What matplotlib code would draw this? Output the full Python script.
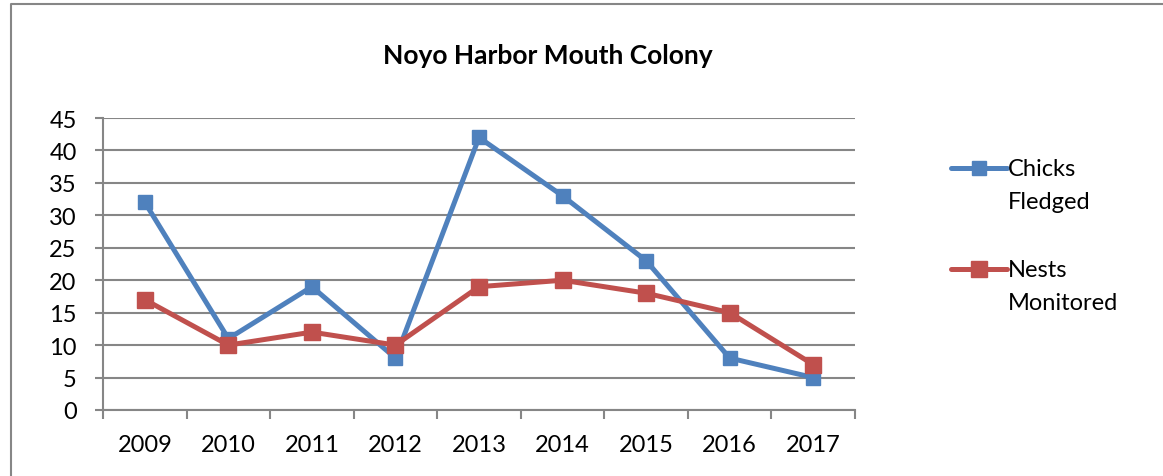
import matplotlib

matplotlib.use("Agg")
import matplotlib.pyplot as plt
from matplotlib.lines import Line2D

plt.rcParams["font.family"] = ["Lato", "DejaVu Sans"]

years = ["2009", "2010", "2011", "2012", "2013", "2014", "2015", "2016", "2017"]
chicks_fledged = [32, 11, 19, 8, 42, 33, 23, 8, 5]
nests_monitored = [17, 10, 12, 10, 19, 20, 18, 15, 7]

blue = "#4F81BD"
red = "#C0504D"
grey = "#868686"

fig = plt.figure(figsize=(11.63, 4.77), dpi=100)
ax = fig.add_axes([0.0886, 0.1384, 0.6466, 0.6121])

x = list(range(len(years)))
ax.plot(x, chicks_fledged, color=blue, lw=3.6, marker="s", ms=9.5,
        solid_joinstyle="miter", zorder=3)
ax.plot(x, nests_monitored, color=red, lw=3.6, marker="s", ms=11.5,
        solid_joinstyle="miter", zorder=4)

ax.set_xlim(-0.5, len(years) - 0.5)
ax.set_ylim(0, 45)
ax.set_yticks(range(0, 46, 5))
ax.set_xticks(x)
ax.set_xticklabels(years)
ax.set_xticks([i - 0.5 for i in range(len(years) + 1)], minor=True)
ax.tick_params(axis="x", which="major", length=0, pad=17, labelsize=17)
ax.tick_params(axis="x", which="minor", length=6.5, width=1.5, color=grey, direction="out")
ax.tick_params(axis="y", length=6, width=1.5, color=grey, pad=13, labelsize=17)
ax.yaxis.grid(True, color=grey, lw=1.5)
ax.set_axisbelow(True)
for s in ["top", "right"]:
    ax.spines[s].set_visible(False)
for s in ["left", "bottom"]:
    ax.spines[s].set_color(grey)
    ax.spines[s].set_linewidth(1.5)

fig.text(0.471, 0.882, "Noyo Harbor Mouth Colony", ha="center", va="center",
         fontsize=19, fontweight="bold")

# legend drawn by hand so the key sits on the first text line
entries = [(blue, 9.5, "Chicks\nFledged", 0.646), (red, 11.5, "Nests\nMonitored", 0.434)]
for color, ms, label, yy in entries:
    fig.add_artist(Line2D([0.818, 0.866], [yy, yy], color=color, lw=3.6,
                          solid_capstyle="round", transform=fig.transFigure))
    fig.add_artist(Line2D([0.842], [yy], color=color, marker="s", ms=ms,
                          transform=fig.transFigure))
    fig.text(0.867, yy + 0.021, label, ha="left", va="top", fontsize=17,
             linespacing=1.72)

# chart frame
fig.add_artist(Line2D([0.0095, 0.0095, 1.0], [0.0, 0.9895, 0.9895], color=grey,
                      lw=1.5, transform=fig.transFigure))

fig.savefig("out.png", dpi=100, facecolor="white")
